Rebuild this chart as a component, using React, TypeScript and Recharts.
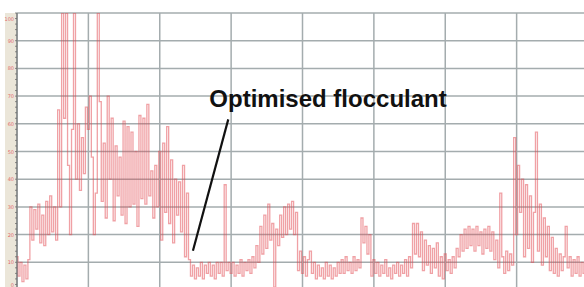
import {
  LineChart,
  Line,
  XAxis,
  YAxis,
  CartesianGrid,
  ReferenceLine,
  ReferenceDot,
} from "recharts";

// one list per grid column (36 readings each)
const seg1 = [12, 5, 10, 3, 9, 4, 11, 30, 18, 29, 22, 31, 17, 27, 16, 32, 20, 34, 21, 30, 18, 65, 30, 100, 62, 100, 45, 20, 58, 100, 40, 60, 36, 55, 42, 66];
const seg2 = [58, 70, 48, 20, 35, 100, 68, 32, 53, 26, 70, 40, 62, 25, 52, 34, 48, 27, 61, 24, 59, 30, 57, 31, 50, 23, 63, 33, 62, 31, 67, 34, 43, 26, 45, 30];
const seg3 = [50, 18, 53, 28, 59, 24, 47, 17, 40, 27, 39, 21, 45, 12, 35, 11, 5, 9, 4, 8, 5, 10, 4, 9, 6, 10, 5, 9, 4, 10, 6, 10, 5, 38, 7, 10];
const seg4 = [6, 10, 5, 9, 6, 11, 5, 10, 7, 11, 6, 12, 8, 16, 10, 23, 13, 27, 15, 31, 18, 24, 1, 22, 16, 27, 19, 30, 20, 31, 22, 32, 20, 28, 7, 14];
const seg5 = [6, 12, 5, 11, 14, 6, 10, 4, 9, 5, 8, 4, 10, 5, 9, 4, 8, 5, 10, 6, 11, 6, 12, 7, 10, 6, 12, 7, 11, 8, 26, 17, 23, 13, 20, 5];
const seg6 = [11, 6, 10, 5, 9, 6, 11, 5, 8, 4, 9, 6, 10, 5, 9, 6, 11, 5, 12, 8, 24, 13, 24, 12, 21, 7, 18, 9, 16, 6, 15, 8, 17, 5, 12, 4];
const seg7 = [13, 7, 11, 6, 12, 8, 15, 12, 20, 14, 22, 15, 23, 16, 22, 14, 23, 16, 21, 13, 22, 15, 23, 14, 21, 11, 18, 8, 35, 12, 6, 14, 7, 13, 9, 55];
const seg8 = [20, 45, 28, 40, 12, 38, 15, 34, 10, 28, 57, 14, 31, 9, 26, 12, 23, 7, 19, 6, 15, 5, 13, 7, 12, 23, 8, 12, 5, 11, 6, 12, 5, 10, 6, 9];

const readings = [...seg1, ...seg2, ...seg3, ...seg4, ...seg5, ...seg6, ...seg7, ...seg8];
const STEP = 100 / 36;
const data = readings.map((v, i) => ({ t: i * STEP, v }));

const Y_LABELS = [0, 10, 20, 30, 40, 50, 60, 70, 80, 90, 100];
const Y_TICKS = Array.from({ length: 51 }, (_, i) => i * 2);
const X_GRID = [0, 100, 200, 300, 400, 500, 600, 700, 800];

const NOTE = "Optimised flocculant";

const YTick = (props: any) => {
  const { x, y, payload } = props;
  if (!Y_LABELS.includes(payload.value)) return <g />;
  let dy = 2;
  if (payload.value === 100) dy = 7.5;
  if (payload.value === 0) dy = -3.5;
  return (
    <text
      x={x}
      y={y + dy}
      textAnchor="end"
      fontSize={5}
      fill="#e26a6a"
      fontFamily="'DejaVu Sans', sans-serif"
    >
      {payload.value}
    </text>
  );
};

const NoteText = (props: any) => (
  <text
    x={props.cx}
    y={props.cy}
    fontSize={24}
    fontWeight={700}
    fill="#111"
    fontFamily="'Liberation Sans', Arial, sans-serif"
  >
    {NOTE}
  </text>
);

export default function App() {
  return (
    <div
      style={{
        position: "fixed",
        left: 0,
        top: 0,
        width: 584,
        height: 287,
        overflow: "hidden",
        background: "#fff",
      }}
    >
      <div
        style={{
          position: "absolute",
          left: 5,
          top: 13,
          width: 12,
          height: 280,
          background: "#ebe6d9",
        }}
      />
      <div style={{ position: "absolute", left: 0, top: 0 }}>
        <LineChart
          width={600}
          height={300}
          data={data}
          margin={{ top: 13, right: 12, left: 0, bottom: 10 }}
        >
          <CartesianGrid
            stroke="#a4acae"
            strokeWidth={1.5}
            horizontalValues={Y_LABELS}
            verticalValues={X_GRID}
          />
          <XAxis
            dataKey="t"
            type="number"
            domain={[0, 800]}
            ticks={X_GRID}
            hide
            height={0}
          />
          <YAxis
            type="number"
            domain={[0, 100]}
            ticks={Y_TICKS}
            interval={0}
            width={17}
            allowDataOverflow
            axisLine={{ stroke: "#6d6d6d", strokeWidth: 1 }}
            tickLine={{ stroke: "#6d6d6d", strokeWidth: 0.8 }}
            tickSize={2}
            tickMargin={1}
            tick={<YTick />}
          />
          <Line
            type="step"
            dataKey="v"
            stroke="#e2434b"
            strokeOpacity={0.5}
            strokeWidth={1.3}
            dot={false}
            isAnimationActive={false}
          />
          <ReferenceLine
            segment={[
              { x: 296, y: 61.6 },
              { x: 246.5, y: 14.2 },
            ]}
            stroke="#111"
            strokeWidth={2.2}
          />
          <ReferenceDot x={269.5} y={66.2} r={0} shape={<NoteText />} />
        </LineChart>
      </div>
    </div>
  );
}
